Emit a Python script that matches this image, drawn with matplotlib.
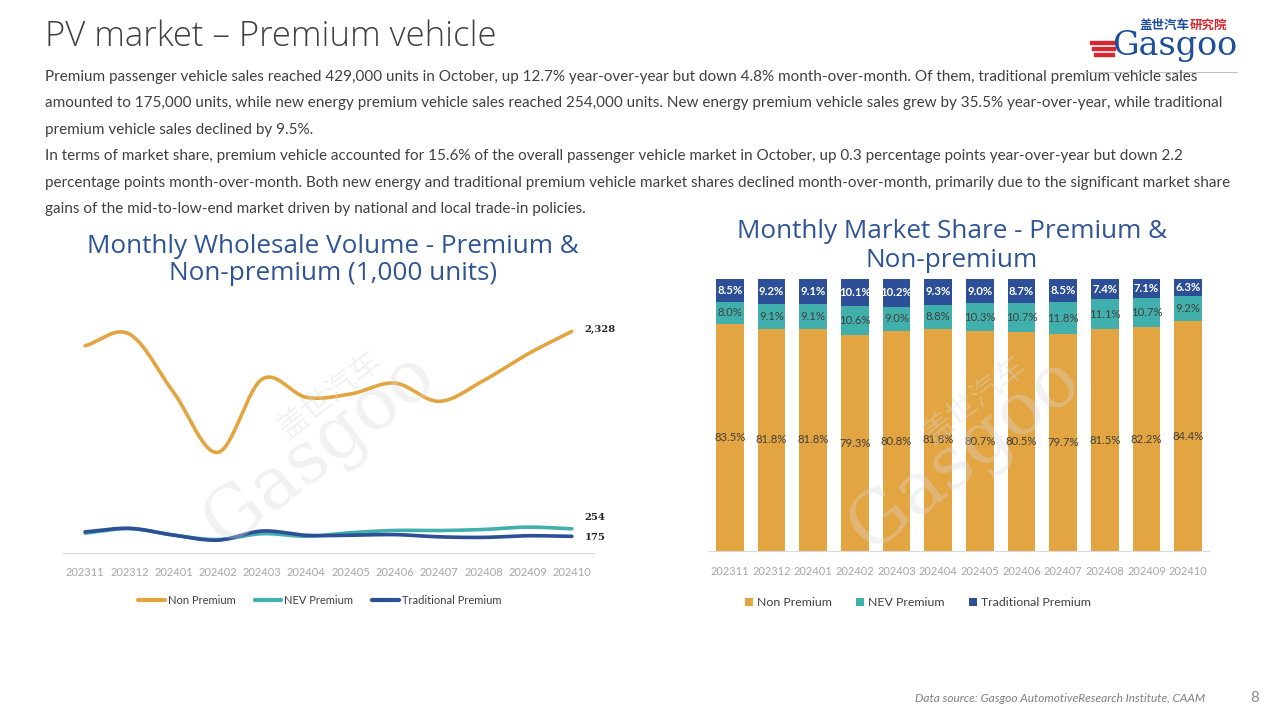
import numpy as np
import matplotlib
matplotlib.use("Agg")
import matplotlib.pyplot as plt
from matplotlib.patches import Rectangle
from matplotlib.lines import Line2D

# ---------------- data ----------------
months = ["202311", "202312", "202401", "202402", "202403", "202404",
          "202405", "202406", "202407", "202408", "202409", "202410"]
# wholesale volume, 1,000 units
non_premium_vol = [2177, 2300, 1687, 1057, 1827, 1635, 1670, 1785, 1593, 1810, 2090, 2328]
nev_premium_vol = [209, 256, 188, 141, 203, 176, 213, 237, 236, 247, 272, 254]
trad_premium_vol = [222, 259, 188, 135, 231, 186, 186, 193, 170, 164, 181, 175]
# market share, %
non_premium_share = [83.5, 81.8, 81.8, 79.3, 80.8, 81.8, 80.7, 80.5, 79.7, 81.5, 82.2, 84.4]
nev_premium_share = [8.0, 9.1, 9.1, 10.6, 9.0, 8.8, 10.3, 10.7, 11.8, 11.1, 10.7, 9.2]
trad_premium_share = [8.5, 9.2, 9.1, 10.1, 10.2, 9.3, 9.0, 8.7, 8.5, 7.4, 7.1, 6.3]

series_names = ["Non Premium", "NEV Premium", "Traditional Premium"]

page_title = "PV market \u2013 Premium vehicle"
body_lines = [
    "Premium passenger vehicle sales reached 429,000 units in October, up 12.7% year-over-year but down 4.8% month-over-month. Of them, traditional premium vehicle sales",
    "amounted to 175,000 units, while new energy premium vehicle sales reached 254,000 units. New energy premium vehicle sales grew by 35.5% year-over-year, while traditional",
    "premium vehicle sales declined by 9.5%.",
    "In terms of market share, premium vehicle accounted for 15.6% of the overall passenger vehicle market in October, up 0.3 percentage points year-over-year but down 2.2",
    "percentage points month-over-month. Both new energy and traditional premium vehicle market shares declined month-over-month, primarily due to the significant market share",
    "gains of the mid-to-low-end market driven by national and local trade-in policies.",
]
left_title = "Monthly Wholesale Volume - Premium &\nNon-premium (1,000 units)"
right_title = "Monthly Market Share - Premium &\nNon-premium"
source_text = "Data source: Gasgoo AutomotiveResearch Institute, CAAM"

# ---------------- style ----------------
C_ORANGE = "#E3A541"
C_TEAL = "#41B0AC"
C_NAVY = "#2C4F98"
C_TITLE = "#2F5597"
C_TEXT = "#404040"
C_GRAY = "#A6A6A6"
W, H = 1280, 720

plt.rcParams["font.family"] = ["Lato", "DejaVu Sans"]

fig = plt.figure(figsize=(12.8, 7.2), dpi=100)
fig.patch.set_facecolor("white")


def fx(px):
    return px / W


def fy(py):
    return 1 - py / H


# page title and body text
fig.text(fx(45), fy(37), page_title, fontsize=25, color=C_TEXT, va="center",
         ha="left", family=["Open Sans", "DejaVu Sans"], fontweight="light")
for i, line in enumerate(body_lines):
    fig.text(fx(45), fy(77 + i * 26.4), line, fontsize=11.0, color=C_TEXT,
             va="center", ha="left")

# logo (approximation)
for k in range(3):
    fig.patches.append(Rectangle((fx(1090 + k * 2), fy(44 + k * 6)), fx(26 - k * 3), 3.5 / H,
                                 transform=fig.transFigure, color="#D7262E"))
fig.text(fx(1112), fy(46), "Gasgoo", fontsize=24, color="#1F4E9A",
         family=["DejaVu Serif"], va="center", ha="left")
fig.text(fx(1140), fy(25), "盖世汽车", fontsize=9, color="#1F4E9A",
         family=["Noto Sans CJK SC"], va="center", ha="left", fontweight="bold")
fig.text(fx(1190), fy(25), "研究院", fontsize=9, color="#D7262E",
         family=["Noto Sans CJK SC"], va="center", ha="left", fontweight="bold")
fig.lines.append(Line2D([fx(1085), fx(1237)], [fy(72), fy(72)], transform=fig.transFigure,
                        color="#BFBFBF", lw=0.8))

# footer
fig.text(fx(1205), fy(698), source_text, fontsize=8.6, color="#7F7F7F",
         style="italic", ha="right", va="center")
fig.text(fx(1255), fy(698), "8", fontsize=11, color="#8C8C8C", ha="center", va="center")


# ---------------- left: line chart ----------------
def catmull(xs, ys, n=30):
    xs = np.asarray(xs, float)
    ys = np.asarray(ys, float)
    px = np.concatenate([[2 * xs[0] - xs[1]], xs, [2 * xs[-1] - xs[-2]]])
    py = np.concatenate([[2 * ys[0] - ys[1]], ys, [2 * ys[-1] - ys[-2]]])
    ox, oy = [], []
    t = np.linspace(0, 1, n, endpoint=False)
    for i in range(1, len(px) - 2):
        for arr, out in ((px, ox), (py, oy)):
            p0, p1, p2, p3 = arr[i - 1], arr[i], arr[i + 1], arr[i + 2]
            out.extend(0.5 * ((2 * p1) + (-p0 + p2) * t + (2 * p0 - 5 * p1 + 4 * p2 - p3) * t ** 2
                              + (-p0 + 3 * p1 - 3 * p2 + p3) * t ** 3))
    ox.append(xs[-1])
    oy.append(ys[-1])
    return np.array(ox), np.array(oy)


fig.text(fx(333), fy(260), left_title, fontsize=18.8, color=C_TITLE, ha="center",
         va="center", linespacing=1.15, family=["Open Sans", "DejaVu Sans"])

axL = fig.add_axes([fx(63), fy(553), fx(594) - fx(63), (553 - 315) / H])
x = np.arange(len(months))
colors = [C_ORANGE, C_TEAL, C_NAVY]
for vals, col, name in zip([non_premium_vol, nev_premium_vol, trad_premium_vol], colors, series_names):
    sx, sy = catmull(x, vals)
    axL.plot(sx, sy, color=col, lw=2.6, label=name, solid_capstyle="round")
axL.set_xlim(-0.5, 11.5)
axL.set_ylim(0, 2500)
axL.set_yticks([])
axL.set_xticks(x)
axL.set_xticklabels(months, fontsize=8, color=C_GRAY)
axL.tick_params(axis="x", length=0, pad=10)
for s in ["top", "right", "left"]:
    axL.spines[s].set_visible(False)
axL.spines["bottom"].set_color("#D9D9D9")
axL.patch.set_alpha(0)

end_labels = [(non_premium_vol[-1], 1), (nev_premium_vol[-1], 8), (trad_premium_vol[-1], -1)]
for v, dy in end_labels:
    axL.annotate(f"{v:,}", (x[-1], v), xytext=(9.0, dy),
                 textcoords="offset points", fontsize=7.2, fontweight="bold",
                 family=["DejaVu Serif"], color="#262626", va="center", ha="left")

leg = fig.legend(handles=axL.get_lines(), labels=series_names, loc="center",
                 bbox_to_anchor=(fx(320), fy(600)), ncol=3, frameon=False, fontsize=8,
                 handlelength=2.4, columnspacing=1.7, handletextpad=0.27)
for t in leg.get_texts():
    t.set_color(C_TEXT)
for l in leg.get_lines():
    l.set_linewidth(3)

# ---------------- right: stacked bar chart ----------------
fig.text(fx(952), fy(246), right_title, fontsize=18.8, color=C_TITLE, ha="center",
         va="center", linespacing=1.2, family=["Open Sans", "DejaVu Sans"])

axR = fig.add_axes([fx(709), fy(551), fx(1209) - fx(709), (551 - 279) / H])
bw = 0.67
b1 = axR.bar(x, non_premium_share, bw, color=C_ORANGE, label=series_names[0])
b2 = axR.bar(x, nev_premium_share, bw, bottom=non_premium_share, color=C_TEAL, label=series_names[1])
bottom3 = [a + b for a, b in zip(non_premium_share, nev_premium_share)]
b3 = axR.bar(x, trad_premium_share, bw, bottom=bottom3, color=C_NAVY, label=series_names[2])
axR.bar_label(b1, labels=[f"{v:.1f}%" for v in non_premium_share], label_type="center",
              fontsize=8.2, color=C_TEXT)
axR.bar_label(b2, labels=[f"{v:.1f}%" for v in nev_premium_share], label_type="center",
              fontsize=8.2, color=C_TEXT)
axR.bar_label(b3, labels=[f"{v:.1f}%" for v in trad_premium_share], label_type="center",
              fontsize=8.2, color="white", fontweight="bold")
axR.set_xlim(-0.5, 11.5)
axR.set_ylim(0, 100)
axR.set_yticks([])
axR.set_xticks(x)
axR.set_xticklabels(months, fontsize=8, color=C_GRAY)
axR.tick_params(axis="x", length=0, pad=11)
for s in ["top", "right", "left"]:
    axR.spines[s].set_visible(False)
axR.spines["bottom"].set_color("#D9D9D9")
axR.patch.set_alpha(0)

legR = fig.legend(handles=[b1, b2, b3], labels=series_names, loc="center",
                  bbox_to_anchor=(fx(918), fy(603)), ncol=3, frameon=False, fontsize=8.9,
                  handlelength=0.65, handleheight=0.65, columnspacing=2.0, handletextpad=0.3)
for t in legR.get_texts():
    t.set_color(C_TEXT)

# watermarks
for cx, cy in [(320, 450), (965, 455)]:
    fig.text(fx(cx), fy(cy), "Gasgoo", fontsize=52, color="#D9D9D9", alpha=0.35,
             rotation=38, ha="center", va="center", family=["DejaVu Serif"], zorder=10)
    fig.text(fx(cx + 10), fy(cy - 55), "盖世汽车", fontsize=22, color="#D9D9D9", alpha=0.35,
             rotation=38, ha="center", va="center", family=["Noto Sans CJK SC"], zorder=10)

fig.savefig("out.png", dpi=100)
